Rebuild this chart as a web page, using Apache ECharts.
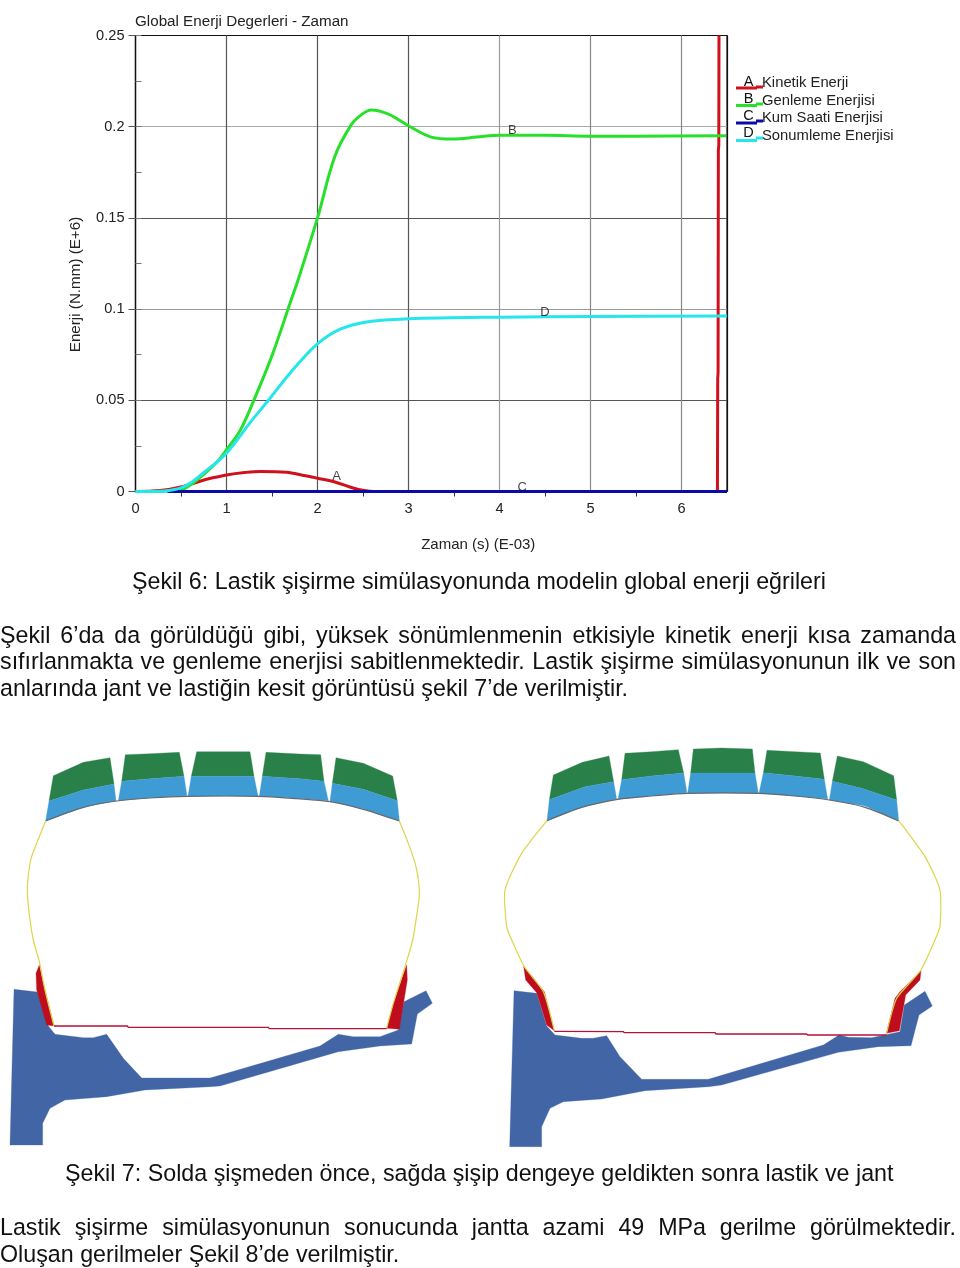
<!DOCTYPE html>
<html><head><meta charset="utf-8">
<style>html,body{margin:0;padding:0;background:#fff}#c{width:960px;height:1268px}</style>
<script src="https://cdn.jsdelivr.net/npm/echarts@6/dist/echarts.min.js"></script>
</head><body><div id="c"></div>
<script>
// ---------- chart data (x in E-03 s, y in E+6 N.mm) ----------
const kineticEnergy = [[0,0],[0.27,0.0005],[0.5,0.0025],[0.7,0.0055],[0.85,0.0075],[1,0.0091],[1.2,0.0104],[1.37,0.011],[1.66,0.0106],[1.85,0.0088],[2,0.0073],[2.2,0.0051],[2.4,0.0018],[2.57,0.0002],[2.8,0]];
const kineticTail = [[2.8,0],[4,0],[6.39,0]];
const kineticSpike = [[6.395,0],[6.398,0.062],[6.402,0.065],[6.405,0.187],[6.41,0.19],[6.412,0.25]];
const strainEnergy = [[0,0],[0.3,0.0002],[0.5,0.001],[0.6,0.0035],[0.74,0.009],[0.9,0.0165],[1,0.0229],[1.15,0.0335],[1.3,0.05],[1.5,0.0745],[1.7,0.1035],[1.79,0.1165],[2,0.15],[2.19,0.1837],[2.37,0.201],[2.48,0.2065],[2.59,0.2092],[2.78,0.2069],[3,0.2005],[3.25,0.1943],[3.49,0.1932],[3.75,0.1943],[4,0.1953],[4.5,0.1953],[5,0.1948],[5.5,0.1948],[6.49,0.195]];
const hourglassEnergy = [[0.35,0],[2,0],[4,0],[6.5,0]];
const dampingEnergy = [[0,0],[0.3,0.0001],[0.4,0.0008],[0.5,0.002],[0.6,0.0045],[0.74,0.01],[1,0.021],[1.255,0.0375],[1.46,0.05],[1.7,0.065],[1.99,0.0805],[2.25,0.089],[2.575,0.0932],[3,0.0947],[4,0.0956],[5,0.096],[6.5,0.0962]];
const seriesNames = ['Kinetik Enerji','Genleme Enerjisi','Kum Saati Enerjisi','Sonumleme Enerjisi'];
const curveLetters = ['A','B','C','D'];
const letterSpots = [[2.21,0.008],[4.14,0.198],[4.25,0.002],[4.5,0.098]];

// ---------- illustration outlines, in 3x crop units ----------
const leftTopGreen = [
 [[160,137],[250,97],[330,83],[342,162],[250,180],[147,213]],
 [[376,74],[450,71],[538,67],[552,139],[450,146],[365,154]],
 [[590,65],[750,65],[762,139],[574,139]],
 [[798,67],[900,72],[962,74],[972,154],[900,146],[787,139]],
 [[1008,83],[1090,100],[1178,138],[1192,212],[1090,178],[997,160]]];
const leftTopBlue = [
 [[147,213],[250,180],[342,162],[348,212],[250,232],[137,272]],
 [[365,154],[450,146],[552,139],[561,197],[450,203],[355,212]],
 [[574,139],[762,139],[774,198],[564,198]],
 [[787,139],[900,146],[972,154],[985,212],[890,205],[778,198]],
 [[997,160],[1090,178],[1192,212],[1198,272],[1090,236],[990,214]]];
const leftCrown = [[137,273],[250,232],[350,213],[450,204],[560,199],[775,199],[890,206],[990,215],[1090,238],[1198,273]];
const leftWallA = [[137,273],[110,340],[92,390],[82,480],[90,570],[100,630],[118,695],[135,780],[162,888]];
const leftWallB = [[1198,273],[1225,340],[1248,410],[1258,490],[1248,570],[1238,630],[1218,700],[1180,820],[1160,895]];
const leftRedA = [[118,75],[108,100],[110,150],[140,255],[162,258],[145,190],[130,130]];
const leftRedB = [[1220,75],[1222,120],[1198,268],[1160,265],[1180,190]];
const leftTie = [[162,258],[382,258],[385,262],[805,262],[808,266],[1160,266]];
const leftRim = [[42,148],[112,156],[145,258],[165,283],[250,293],[280,293],[320,283],[370,355],[425,414],[630,414],[680,400],[960,318],[1015,283],[1060,290],[1140,290],[1195,270],[1212,185],[1278,152],[1297,190],[1252,222],[1235,312],[1140,318],[1015,335],[660,438],[630,440],[435,450],[320,470],[195,480],[150,505],[128,550],[128,615],[30,615]];
const rightTopGreen = [
 [[175,135],[262,97],[342,78],[356,155],[270,170],[163,209]],
 [[390,70],[470,65],[550,59],[566,129],[470,138],[380,149]],
 [[595,57],[680,54],[772,57],[780,129],[587,129]],
 [[816,61],[900,65],[976,69],[988,148],[900,138],[805,128]],
 [[1027,78],[1105,95],[1196,137],[1205,210],[1100,175],[1012,154]]];
const rightTopBlue = [
 [[163,209],[270,170],[356,155],[365,207],[260,232],[156,272]],
 [[380,149],[470,138],[566,129],[576,188],[470,197],[369,208]],
 [[587,129],[780,129],[790,189],[578,189]],
 [[805,128],[900,138],[988,148],[998,207],[900,198],[792,190]],
 [[1012,154],[1100,175],[1205,210],[1211,272],[1110,228],[1003,210]]];
const rightCrown = [[156,272],[260,232],[368,208],[470,198],[578,190],[790,190],[900,198],[1003,210],[1110,232],[1211,273]];
const rightWallA = [[156,272],[80,370],[30,480],[35,590],[50,630],[88,710],[145,785],[178,902]];
const rightWallB = [[1211,272],[1290,380],[1335,480],[1335,590],[1320,630],[1278,720],[1205,805],[1175,910]];
const rightRedA = [[86,80],[92,120],[125,158],[155,255],[178,272],[148,155],[112,110]];
const rightRedB = [[1278,92],[1275,120],[1232,165],[1213,272],[1174,280],[1200,175],[1215,155]];
const rightTie = [[178,274],[385,275],[388,278],[660,278],[663,282],[935,282],[938,285],[1174,285]];
const rightRim = [[57,152],[125,160],[155,258],[180,285],[260,295],[295,295],[335,287],[375,350],[440,418],[640,418],[700,400],[985,315],[1032,285],[1060,292],[1130,293],[1215,275],[1228,195],[1290,154],[1312,198],[1272,225],[1248,317],[1150,320],[1030,337],[680,435],[640,440],[450,452],[320,477],[205,485],[165,505],[140,560],[140,620],[44,620]];

// ---------- page text ----------
const caption1 = 'Şekil 6: Lastik şişirme simülasyonunda modelin global enerji eğrileri';
const para1 = ['Şekil 6’da da görüldüğü gibi, yüksek sönümlenmenin etkisiyle kinetik enerji kısa zamanda',
 'sıfırlanmakta ve genleme enerjisi sabitlenmektedir. Lastik şişirme simülasyonunun ilk ve son',
 'anlarında jant ve lastiğin kesit görüntüsü şekil 7’de verilmiştir.'];
const caption2 = 'Şekil 7: Solda şişmeden önce, sağda şişip dengeye geldikten sonra lastik ve jant';
const para2 = ['Lastik şişirme simülasyonunun sonucunda jantta azami 49 MPa gerilme görülmektedir.',
 'Oluşan gerilmeler Şekil 8’de verilmiştir.'];

// ---------- layout ----------
const SANS = '"Liberation Sans", Arial, sans-serif';
const BODY = '23.25px ' + SANS;
const mapCrop = (ox, oy, pts) => pts.map(p => [ox + p[0]/3, oy + p[1]/3]);
const LTOP=[0,730], LLOW=[0,940], RTOP=[495,730], RLOW=[495,940];
const shapes = [];
const addFill = (list, o, color) => list.forEach(p => shapes.push({pts: mapCrop(o[0],o[1],p), fill: color}));
const addLine = (p, o, color, w, smooth) => shapes.push({pts: mapCrop(o[0],o[1],p), stroke: color, w, smooth});
const GREEN='#2a8049', SKY='#3e9bd4', RIM='#4265a6', RED='#c00d1e', YEL='#ddd54a', TIE='#b5123a', CROWN='#66686e';
addFill([leftRim],LLOW,RIM); addFill([rightRim],RLOW,RIM);
addFill(leftTopGreen,LTOP,GREEN); addFill(leftTopBlue,LTOP,SKY);
addFill(rightTopGreen,RTOP,GREEN); addFill(rightTopBlue,RTOP,SKY);
addFill([leftRedA,leftRedB],LLOW,RED); addFill([rightRedA,rightRedB],RLOW,RED);
addLine(leftCrown,LTOP,CROWN,1.2,0.3); addLine(rightCrown,RTOP,CROWN,1.2,0.3);
addLine(leftWallA,LTOP,YEL,1.2,0.3); addLine(leftWallB,LTOP,YEL,1.2,0.3);
addLine(rightWallA,RTOP,YEL,1.2,0.2); addLine(rightWallB,RTOP,YEL,1.2,0.2);
addLine(leftTie,LLOW,TIE,1.3,0); addLine(rightTie,RLOW,TIE,1.3,0);

const ctx = document.createElement('canvas').getContext('2d');
function bodyText(str, y, x0, x1){
  ctx.font = BODY;
  if (x1 === undefined) return [{type:'text',silent:true,style:{text:str,x:x0,y,font:BODY,fill:'#111',textVerticalAlign:'middle'}}];
  const words = str.split(' ');
  const total = words.reduce((s,w)=>s+ctx.measureText(w).width,0);
  const gap = (x1-x0-total)/(words.length-1);
  let x = x0;
  return words.map(w=>{const e={type:'text',silent:true,style:{text:w,x,y,font:BODY,fill:'#111',textVerticalAlign:'middle'}};x+=ctx.measureText(w).width+gap;return e;});
}
const pageText = [].concat(
  bodyText(caption1,583,132),
  bodyText(para1[0],637,0,956), bodyText(para1[1],663,0,956), bodyText(para1[2],690,0),
  bodyText(caption2,1175,65),
  bodyText(para2[0],1229,0,956), bodyText(para2[1],1256,0)
);
const LABEL = '#222';
const COLORS=['#d0101c','#28e02c','#0a0aa8','#25e6ea'];
const legendLetterEls = curveLetters.map((t,i)=>({type:'text',silent:true,style:{text:t,x:748.5,y:82+i*17,font:'14.5px '+SANS,fill:'#111',textAlign:'center',textVerticalAlign:'middle'}}));
const legendTails = COLORS.map((c,i)=>({type:'rect',silent:true,shape:{x:756,y:85.5+i*17,width:7,height:3},style:{fill:c}}));
const titleEl = {type:'text',silent:true,style:{text:'Global Enerji Degerleri - Zaman',x:135,y:22,font:'15.2px '+SANS,fill:LABEL,textVerticalAlign:'middle'}};

const line = (name,data,c,w,smooth)=>({name,type:'line',data,xAxisIndex:0,yAxisIndex:0,showSymbol:false,symbol:'none',smooth:smooth===undefined?0.35:smooth,lineStyle:{color:c,width:w||3},itemStyle:{color:c},z:3});

const option = {
  animation:false, backgroundColor:'#fff',
  graphic:{elements:[titleEl,...legendLetterEls,...legendTails,...pageText]},
  grid:[
    {left:135.5,top:35.5,width:591.5,height:456,show:true,borderColor:'#111',borderWidth:1.2,backgroundColor:'transparent'},
    {left:0,top:0,width:960,height:1268,show:false}
  ],
  legend:{
    show:true,orient:'vertical',left:736,top:75,padding:0,itemWidth:21,itemHeight:13,itemGap:1.5,symbolKeepAspect:false,
    icon:'path://M0 0L0 0Z M0 10H21V13H0Z',
    data:seriesNames,selectedMode:false,
    textStyle:{fontFamily:SANS,fontSize:14.8,color:LABEL,lineHeight:16}
  },
  xAxis:[
    {type:'value',gridIndex:0,min:0,max:6.5,interval:1,
     name:'Zaman (s) (E-03)',nameLocation:'middle',nameGap:46,
     nameTextStyle:{fontFamily:SANS,fontSize:15,color:LABEL,padding:[0,0,0,94]},
     axisLine:{show:true,lineStyle:{color:'#111',width:1.2}},
     axisTick:{show:false},
     minorTick:{show:true,splitNumber:2,length:5,lineStyle:{color:'#333'}},
     axisLabel:{fontFamily:SANS,fontSize:14.6,color:LABEL,margin:10,showMaxLabel:false,hideOverlap:false,formatter:v=>(Number.isInteger(v)?String(v):'')},
     splitLine:{show:true,lineStyle:{width:1.2,color:['#333','#555','#555','#555','#999','#888','#888','#111']}},
     minorSplitLine:{show:false}},
    {type:'value',gridIndex:1,min:0,max:960,show:false}
  ],
  yAxis:[
    {type:'value',gridIndex:0,min:0,max:0.25,interval:0.05,
     name:'Enerji (N.mm) (E+6)',nameLocation:'middle',nameGap:52,
     nameTextStyle:{fontFamily:SANS,fontSize:15.2,color:LABEL,padding:[0,42,0,0]},
     axisLine:{show:true,onZero:false,lineStyle:{color:'#111',width:1.2}},
     axisTick:{show:true,length:7,lineStyle:{color:'#555'}},
     axisLabel:{fontFamily:SANS,fontSize:14.6,color:LABEL,margin:11,formatter:v=>String(+v.toFixed(2))},
     splitLine:{show:true,lineStyle:{width:1.2,color:['#333','#555','#999','#555','#aaa','#111']}}},
    {type:'value',gridIndex:0,min:0,max:0.25,interval:0.025,position:'left',
     axisLine:{show:false},axisLabel:{show:false},splitLine:{show:false},
     axisTick:{show:true,inside:true,length:6,lineStyle:{color:'#777'}}},
    {type:'value',gridIndex:1,min:0,max:1268,inverse:true,show:false}
  ],
  series:[
    {type:'custom',name:'illustration',xAxisIndex:1,yAxisIndex:2,silent:true,clip:false,legendHoverLink:false,
     data:shapes.map((s,i)=>[i]),encode:{x:[],y:[]},
     renderItem:(params,api)=>{
       const s=shapes[params.dataIndex];
       const points=s.pts.map(p=>api.coord(p));
       return s.fill?{type:'polygon',shape:{points},style:{fill:s.fill,stroke:s.fill,lineWidth:0.3}}
                    :{type:'polyline',shape:{points,smooth:s.smooth},style:{fill:null,stroke:s.stroke,lineWidth:s.w}};
     }},
    line(seriesNames[0],kineticEnergy,COLORS[0]),
    line('tail',kineticTail,COLORS[0],3,false),
    line('spike',kineticSpike,COLORS[0],3,false),
    line(seriesNames[1],strainEnergy,COLORS[1]),
    line(seriesNames[2],hourglassEnergy,COLORS[2],3,false),
    line(seriesNames[3],dampingEnergy,COLORS[3]),
    {type:'scatter',name:'letters',xAxisIndex:0,yAxisIndex:0,symbolSize:0,silent:true,z:4,
     data:letterSpots.map((p,i)=>({value:p,label:{show:true,position:'inside',formatter:curveLetters[i],fontFamily:SANS,fontSize:13,color:'#111'}}))}
  ]
};
const chart = echarts.init(document.getElementById('c'),null,{renderer:'canvas'});
chart.setOption(option);
</script></body></html>
